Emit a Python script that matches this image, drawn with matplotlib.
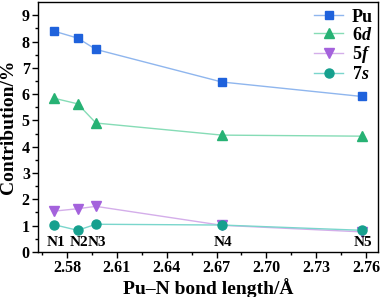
import numpy as np
import matplotlib.pyplot as plt

plt.rcParams['font.family'] = 'Liberation Serif'
plt.rcParams['font.weight'] = 'bold'
plt.rcParams['mathtext.fontset'] = 'custom'
plt.rcParams['mathtext.it'] = 'Liberation Serif:italic:bold'
plt.rcParams['mathtext.rm'] = 'Liberation Serif:bold'

########## Data ##########
bond = [2.5724, 2.5864, 2.5974, 2.6732, 2.7574]
sites = ["N1", "N2", "N3", "N4", "N5"]
pu = [8.39, 8.13, 7.70, 6.46, 5.91]
d6 = [5.84, 5.63, 4.90, 4.44, 4.40]
f5 = [1.55, 1.64, 1.73, 1.01, 0.76]
s7 = [1.03, 0.82, 1.05, 1.02, 0.82]

fig, ax = plt.subplots(figsize=(3.85, 2.97), dpi=100)
fig.subplots_adjust(left=0.099, right=0.982, top=0.993, bottom=0.152)

ax.plot(bond, pu, color="#8fb6ee", marker="s", mfc="#1f62dc", mec="#1f62dc",
        ms=6, lw=1, label="Pu")
ax.plot(bond, d6, color="#86dcb6", marker="^", mfc="#27b274", mec="#27b274",
        ms=7, lw=1, label=r"6$\mathit{d}$")
ax.plot(bond, f5, color="#d4aeea", marker="v", mfc="#a462dc", mec="#a462dc",
        ms=7, lw=1, label=r"5$\mathit{f}$")
ax.plot(bond, s7, color="#7ad6cc", marker="o", mfc="#16a08e", mec="#16a08e",
        ms=6.5, lw=1, label=r"7$\mathit{s}$")

for x, s in zip(bond, sites):
    ax.text(x + 0.0008, 0.12, s, ha="center", va="bottom", fontsize=11, fontweight="bold")

ax.set_xlim(2.5626, 2.7672)
ax.set_ylim(0, 9.5)
ax.set_xticks([2.58, 2.61, 2.64, 2.67, 2.70, 2.73, 2.76])
ax.set_xticks(np.arange(2.565, 2.77, 0.03), minor=True)
ax.set_yticks(range(0, 10))
ax.set_yticks(np.arange(0.5, 9.5, 1.0), minor=True)
ax.tick_params(axis="both", which="major", labelsize=11.5, direction="out", length=4, width=1, pad=2)
ax.tick_params(axis="both", which="minor", direction="out", length=2.5, width=1)
for sp in ax.spines.values():
    sp.set_linewidth(1)

ax.set_xlabel("Pu–N bond length/Å", fontsize=14, fontweight="bold", labelpad=1)
ax.set_ylabel("Contribution/%", fontsize=14, fontweight="bold", labelpad=3)

ax.legend(loc="upper right", bbox_to_anchor=(1.012, 1.01), frameon=False, fontsize=13,
          handlelength=1.6, borderaxespad=0.1, labelspacing=0.05, handletextpad=0.5)

plt.savefig("out.png", dpi=100)
